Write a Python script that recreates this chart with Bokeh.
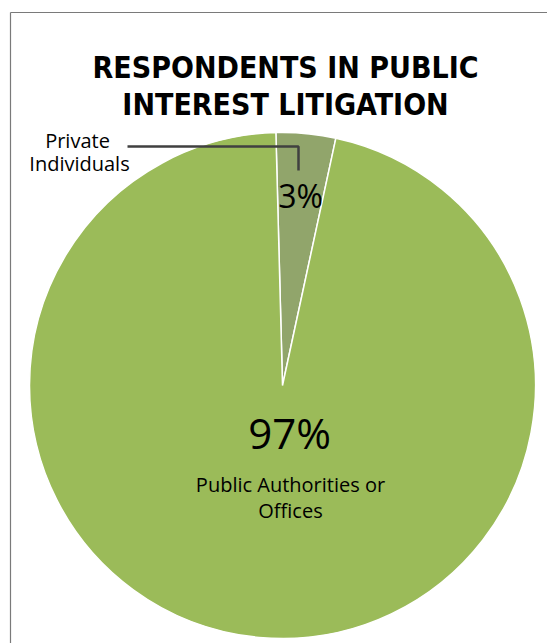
import numpy as np
from bokeh.plotting import figure
from bokeh.models import Range1d
from bokeh.core.properties import value
from bokeh.embed import file_html
from bokeh.resources import INLINE

W, H = 547, 643

# ---- data ----
categories = ["Private Individuals", "Public Authorities or Offices"]
shares = [3.8, 96.2]            # slice sizes
pct_labels = ["3%", "97%"]
colors = ["#91A56B", "#9BBB59"]
title_lines = ["RESPONDENTS IN PUBLIC", "INTEREST LITIGATION"]

p = figure(width=W, height=H, output_backend="svg", toolbar_location=None,
           x_range=Range1d(0, W), y_range=Range1d(0, H), min_border=0)
p.axis.visible = False
p.grid.visible = False
p.outline_line_color = None
p.background_fill_color = "white"
p.border_fill_color = "white"

def Y(py, size=0):
    # pixel row -> data y, with a small correction for the text baseline
    return H - py + 0.35 * size

# frame (top and left edges)
p.multi_line(xs=[[10, W], [10, 10]], ys=[[Y(12), Y(12)], [Y(12), Y(H)]],
             line_color="#7a7a7a", line_width=1.2)

# pie
cx, cy, r = 282, Y(385), 253
start0 = np.deg2rad(91.5)
fr = np.array(shares) / sum(shares)
ends = start0 - np.cumsum(fr) * 2 * np.pi
starts = np.concatenate([[start0], ends[:-1]])
p.wedge(x=[cx] * 2, y=[cy] * 2, radius=r, radius_units="screen",
        start_angle=starts, end_angle=ends, direction="clock",
        fill_color=colors, line_color="white", line_width=1.5)

# title
ts = 30
p.text(x=[285, 285], y=[Y(77, ts), Y(114, ts)], text=title_lines,
       text_font=value("DejaVu Sans Condensed, Roboto"), text_font_style="bold",
       text_font_size=f"{ts}px", text_align="center", text_baseline="alphabetic",
       text_color="black")

# Private Individuals label + leader
ls = 20
p.text(x=[77, 79], y=[Y(147, ls), Y(170, ls)], text=["Private", "Individuals"],
       text_font=value("Open Sans"), text_font_size=f"{ls}px",
       text_align="center", text_baseline="alphabetic", text_color="black")
p.line(x=[127, 298, 298], y=[Y(146), Y(146), Y(170)],
       line_color="#404040", line_width=2.5)

# percentage labels
p.text(x=[300], y=[Y(206, 32)], text=[pct_labels[0]],
       text_font=value("Open Sans"), text_font_size="32px",
       text_align="center", text_baseline="alphabetic", text_color="black")
p.text(x=[289], y=[Y(447, 42)], text=[pct_labels[1]],
       text_font=value("Open Sans"), text_font_size="42px",
       text_align="center", text_baseline="alphabetic", text_color="black")
p.text(x=[290, 290], y=[Y(491, ls), Y(517, ls)],
       text=["Public Authorities or", "Offices"],
       text_font=value("Open Sans"), text_font_size=f"{ls}px",
       text_align="center", text_baseline="alphabetic", text_color="black")

open("out.html", "w").write(file_html(p, INLINE))
